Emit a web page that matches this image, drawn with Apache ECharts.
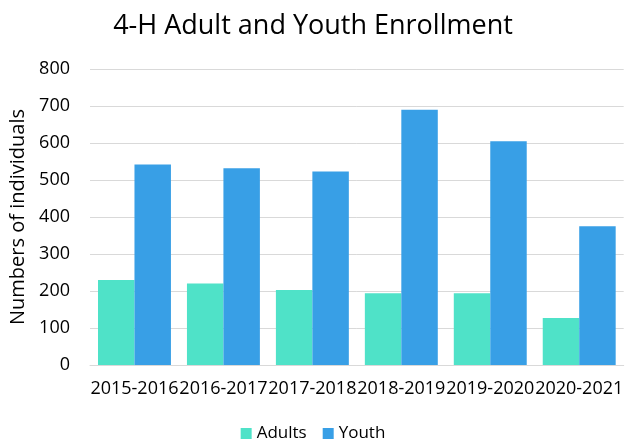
<!DOCTYPE html>
<html>
<head>
<meta charset="utf-8">
<script src="https://cdn.jsdelivr.net/npm/echarts@6/dist/echarts.min.js"></script>
<style>
  html, body { margin: 0; padding: 0; background: #fff; }
  #chart { width: 626px; height: 443px; }
</style>
</head>
<body>
<div id="chart"></div>
<script>
const years = ["2015-2016", "2016-2017", "2017-2018", "2018-2019", "2019-2020", "2020-2021"];
const adults = [230, 220, 203, 194, 194, 127];
const youth = [542, 532, 523, 690, 605, 375];
const yTicks = { min: 0, max: 800, interval: 100 };

const font = "'Open Sans', sans-serif";
const chart = echarts.init(document.getElementById("chart"));

chart.setOption({
  backgroundColor: "#fff",
  animation: false,
  textStyle: { fontFamily: font },
  title: {
    text: "4-H Adult and Youth Enrollment",
    left: "center",
    top: 8,
    textStyle: { fontFamily: font, fontSize: 27, fontWeight: "normal", color: "#000" }
  },
  legend: {
    bottom: -4,
    left: "center",
    itemWidth: 11,
    itemHeight: 11,
    itemGap: 16,
    icon: "rect",
    textStyle: { fontFamily: font, fontSize: 17, color: "#000" },
    data: ["Adults", "Youth"]
  },
  grid: { left: 88, right: 1, top: 69, bottom: 78 },
  xAxis: {
    type: "category",
    data: years,
    axisTick: { show: false },
    axisLine: { lineStyle: { color: "#d9d9d9", width: 1 } },
    axisLabel: { color: "#000", fontSize: 18, margin: 15, interval: 0, fontFamily: font }
  },
  yAxis: {
    type: "value",
    min: yTicks.min,
    max: yTicks.max,
    interval: yTicks.interval,
    name: "Numbers of individuals",
    nameLocation: "middle",
    nameGap: 62,
    nameTextStyle: { color: "#000", fontSize: 20, fontFamily: font },
    axisLine: { show: false },
    axisTick: { show: false },
    axisLabel: { color: "#000", fontSize: 18, margin: 20, fontFamily: font },
    splitLine: { lineStyle: { color: "#d9d9d9", width: 1 } }
  },
  series: [
    {
      name: "Adults",
      type: "bar",
      data: adults,
      barGap: "0%",
      barCategoryGap: "18%",
      itemStyle: { color: "#4fe2c8" }
    },
    {
      name: "Youth",
      type: "bar",
      data: youth,
      itemStyle: { color: "#389fe6" }
    }
  ]
});
</script>
</body>
</html>
